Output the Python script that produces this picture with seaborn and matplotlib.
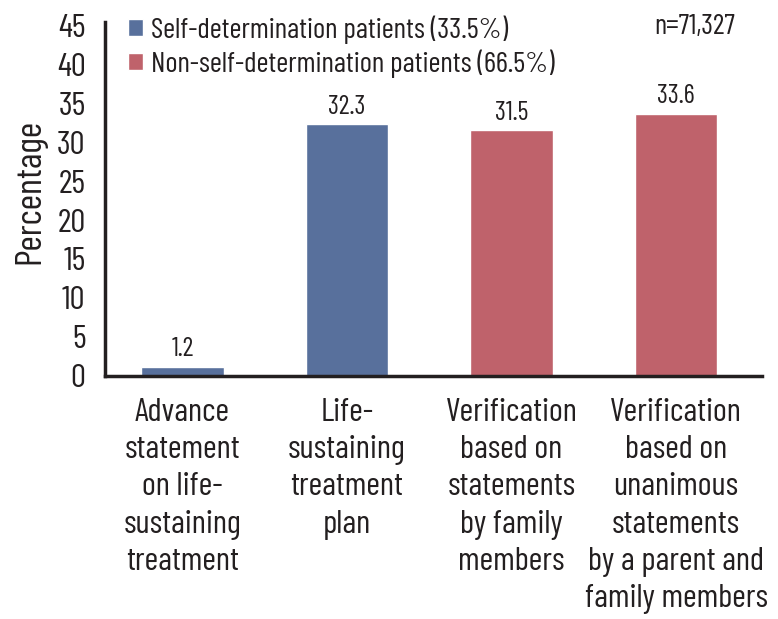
import numpy as np
import pandas as pd
import matplotlib
matplotlib.use('Agg')
import matplotlib.pyplot as plt
import seaborn as sns

categories = ['Advance\nstatement\non life-\nsustaining\ntreatment',
              'Life-\nsustaining\ntreatment\nplan',
              'Verification\nbased on\nstatements\nby family\nmembers',
              'Verification\nbased on\nunanimous\nstatements\nby a parent and\nfamily members']
values = [1.2, 32.3, 31.5, 33.6]
groups = ['Self-determination patients (33.5%)', 'Self-determination patients (33.5%)',
          'Non-self-determination patients (66.5%)', 'Non-self-determination patients (66.5%)']
yticks = [0, 5, 10, 15, 20, 25, 30, 35, 40, 45]

df = pd.DataFrame({'cat': categories, 'val': values, 'grp': groups})

sns.set_style('white')
plt.rcParams['font.family'] = ['Barlow Condensed', 'DejaVu Sans']
plt.rcParams['text.color'] = '#231f20'
plt.rcParams['xtick.color'] = '#231f20'
plt.rcParams['ytick.color'] = '#231f20'
plt.rcParams['axes.labelcolor'] = '#231f20'

fig = plt.figure(figsize=(7.78, 6.19), dpi=100)
ax = fig.add_axes([0.135, 0.3926, 0.844, 0.572])
palette = {'Self-determination patients (33.5%)': '#58709c',
           'Non-self-determination patients (66.5%)': '#bf626b'}
sns.barplot(data=df, x='cat', y='val', hue='grp', palette=palette, dodge=False,
            width=0.5, saturation=1, ax=ax)

for c in ax.containers:
    labs = ['%.1f' % v if v > 0 else '' for v in c.datavalues]
    ax.bar_label(c, labels=labs, padding=4, fontsize=19)

ax.set_ylim(0, 45.4)
ax.set_yticks(yticks)
ax.set_xlim(-0.47, 3.52)
ax.set_xticks([0.5, 1.5, 2.5])
ax.set_xticklabels([])
ax.set_xticks(range(4), minor=True)
ax.set_xticklabels(categories, minor=True, fontsize=24, linespacing=1.31)
ax.tick_params(axis='x', which='minor', length=0, pad=16)
ax.tick_params(axis='x', which='major', length=9, width=2.5, direction='out', color='#231f20')
ax.tick_params(axis='y', length=9, width=2.5, direction='out', color='#231f20', labelsize=24, pad=5)
ax.set_xlabel('')
ax.set_ylabel('Percentage', fontsize=27)
ax.yaxis.set_label_coords(-0.09, 0.52)
sns.despine(ax=ax)
for s in ['left', 'bottom']:
    ax.spines[s].set_linewidth(2.5)
    ax.spines[s].set_color('#231f20')

h, l = ax.get_legend_handles_labels()
ax.legend(h, l, loc='upper left', bbox_to_anchor=(-0.005, 1.093), frameon=False,
          fontsize=21, handlelength=0.5, handleheight=0.5, handletextpad=0.3,
          labelspacing=0.2)
ax.text(0.96, 0.985, 'n=71,327', transform=ax.transAxes, ha='right', va='center', fontsize=20.5)

fig.savefig('out.png', dpi=100)
